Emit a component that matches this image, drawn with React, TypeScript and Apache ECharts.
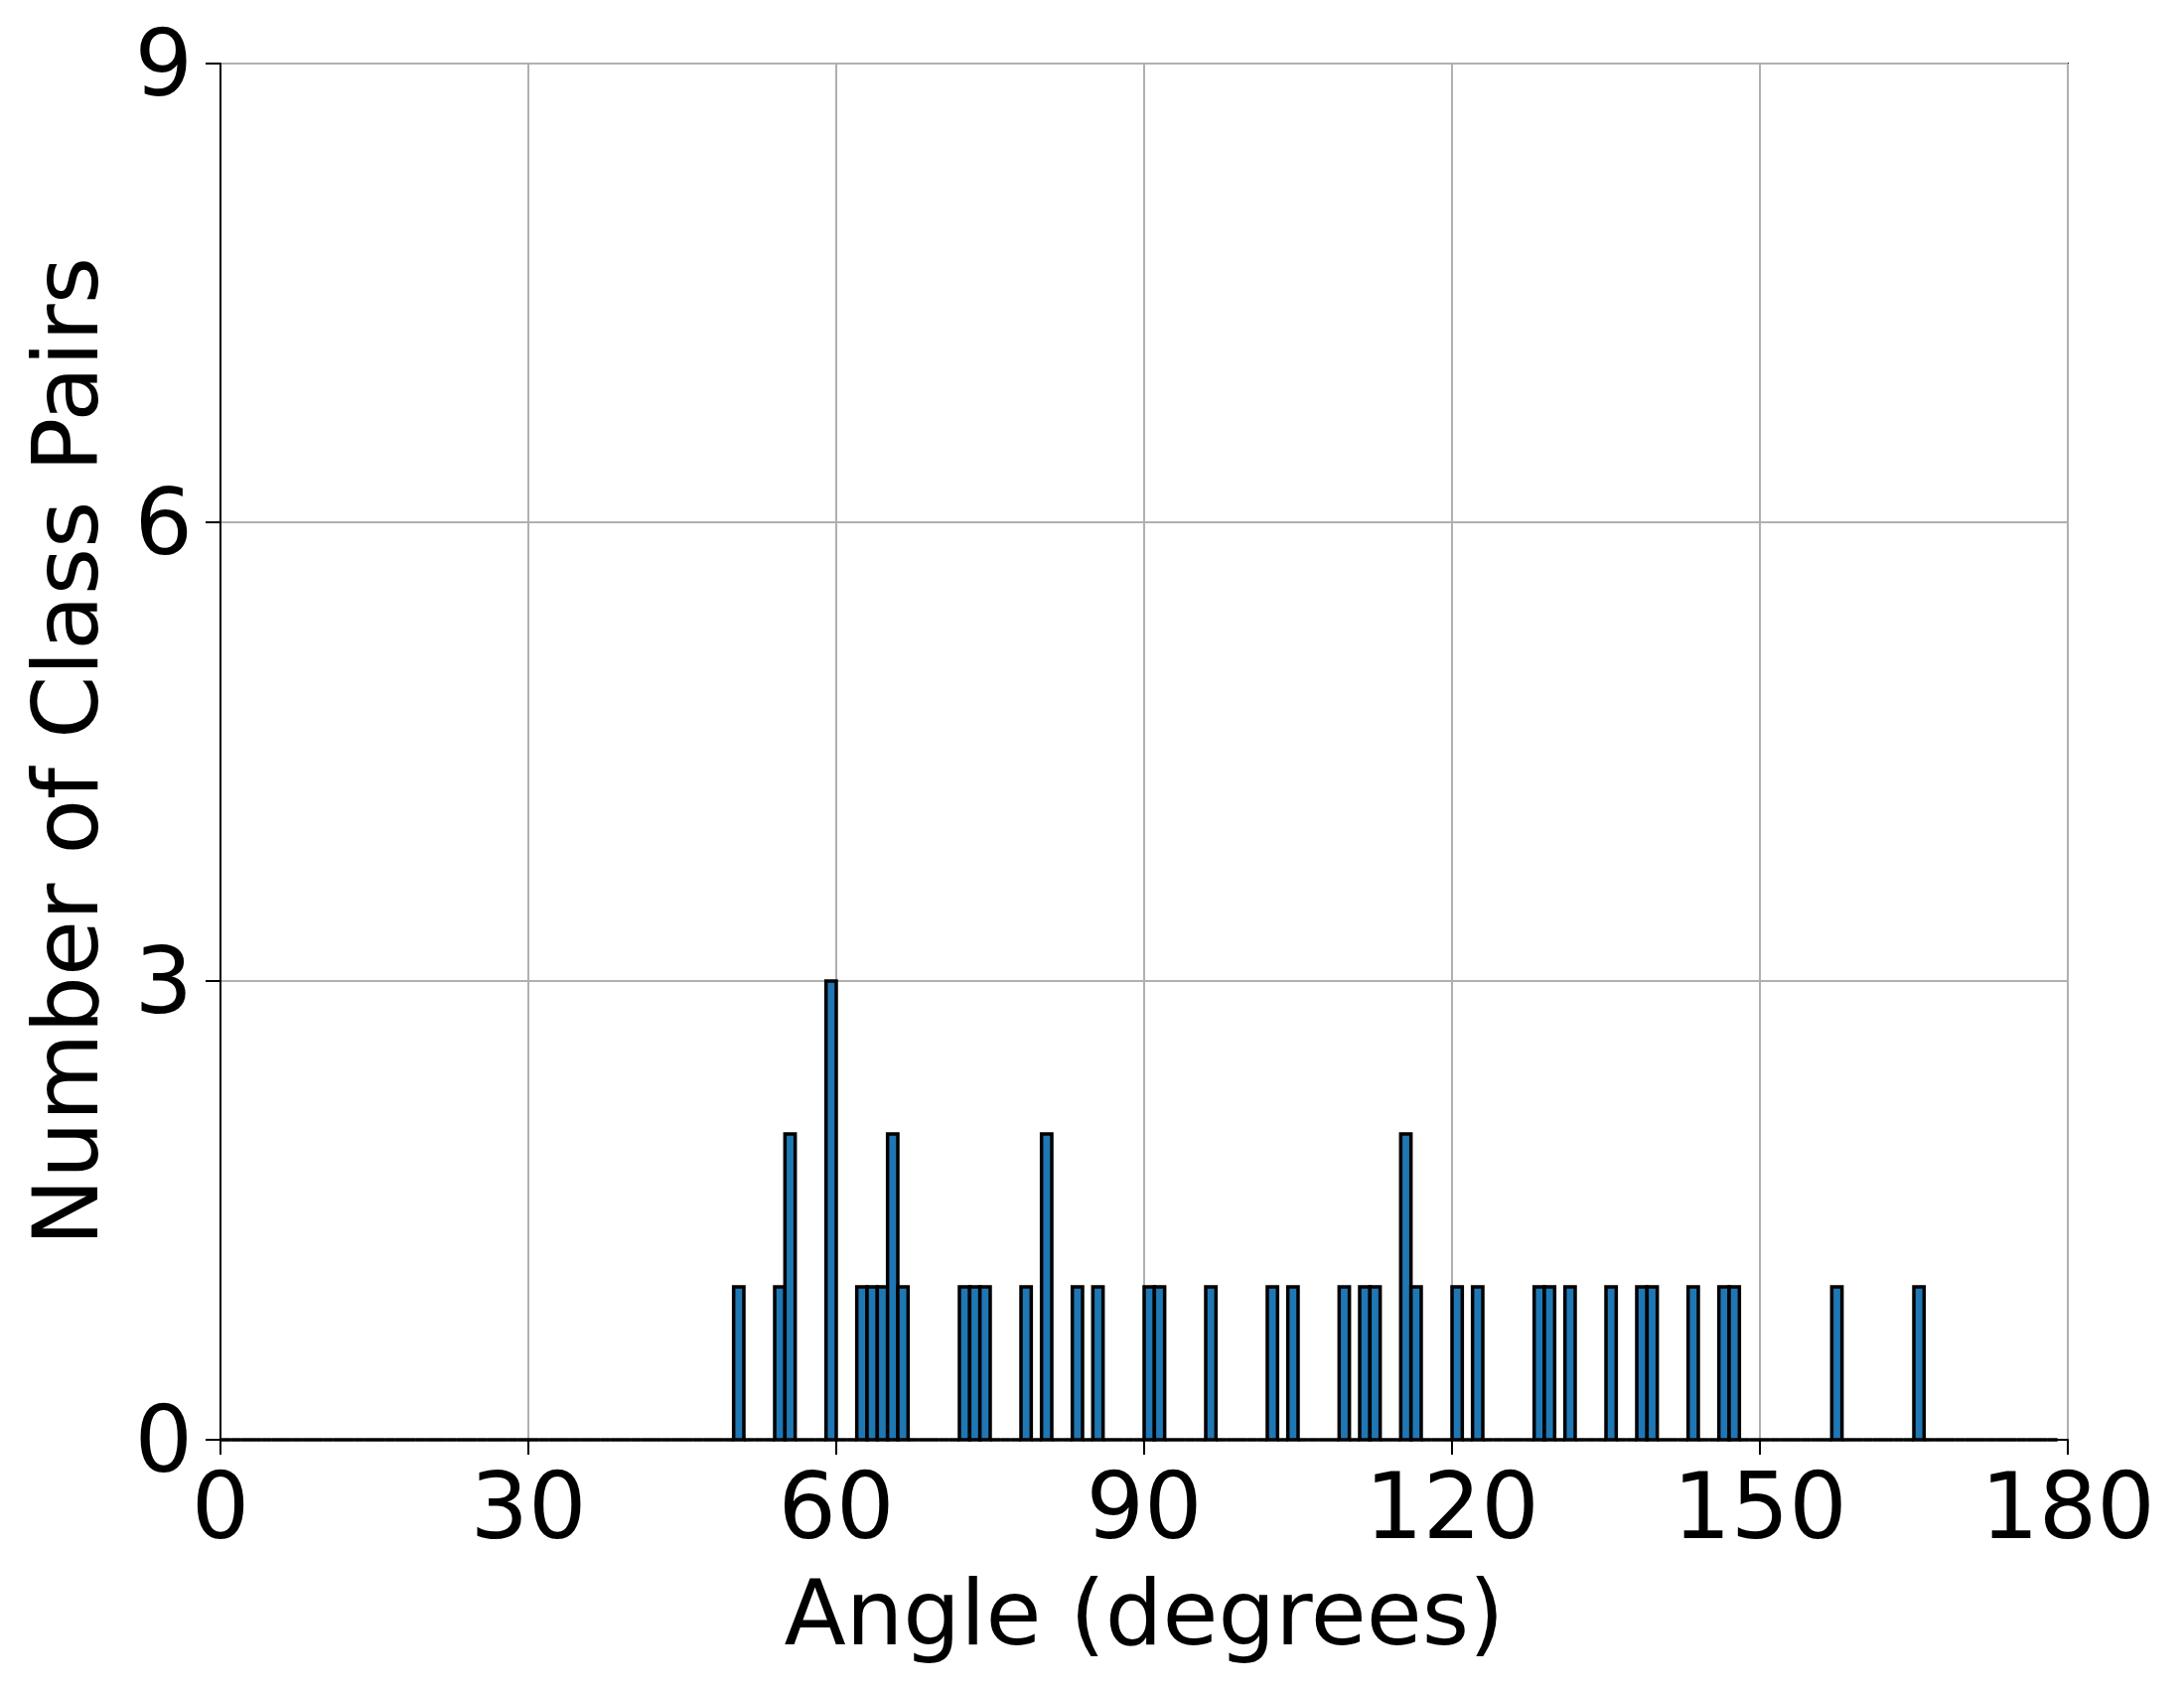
import React, { useEffect, useRef } from "react";
import * as echarts from "echarts";

// Histogram bins: 1-degree bins starting at 0, last bin ends at 179
const binStart = 0;
const binCount = 179;
// Non-empty bins (bin start angle) and their counts
const angles = [50, 54, 55, 59, 62, 63, 64, 65, 66, 72, 73, 74, 78, 80, 83, 85, 90, 91, 96, 102, 104, 109, 111, 112, 115, 116, 120, 122, 128, 129, 131, 135, 138, 139, 143, 146, 147, 157, 165];
const counts = [1, 1, 2, 3, 1, 1, 1, 2, 1, 1, 1, 1, 1, 2, 1, 1, 1, 1, 1, 1, 1, 1, 1, 1, 2, 1, 1, 1, 1, 1, 1, 1, 1, 1, 1, 1, 1, 1, 1];
const xTicks = [0, 30, 60, 90, 120, 150, 180];
const yTicks = [0, 3, 6, 9];

const FONT = "DejaVu Sans";

export default function App() {
  const ref = useRef<HTMLDivElement>(null);
  useEffect(() => {
    if (!ref.current) return;
    const chart = echarts.init(ref.current, null, { renderer: "svg" });
    const bins: number[][] = [];
    for (let i = 0; i < binCount; i++) {
      const a = binStart + i;
      const k = angles.indexOf(a);
      bins.push([a, k >= 0 ? counts[k] : 0]);
    }
    chart.setOption({
      animation: false,
      backgroundColor: "#ffffff",
      grid: {
        left: 222,
        right: 117,
        top: 64,
        bottom: 252,
        show: true,
        borderColor: "#000000",
        borderWidth: 2,
        backgroundColor: "transparent",
      },
      xAxis: {
        type: "value",
        min: xTicks[0],
        max: xTicks[xTicks.length - 1],
        interval: 30,
        name: "Angle (degrees)",
        nameLocation: "middle",
        nameGap: 129,
        nameTextStyle: { fontFamily: FONT, fontSize: 91, color: "#000" },
        axisLine: { show: true, lineStyle: { color: "#000", width: 2 } },
        axisTick: { show: true, length: 15, lineStyle: { color: "#000", width: 2 } },
        axisLabel: { fontFamily: FONT, fontSize: 92, color: "#000", margin: 21 },
        splitLine: { show: true, lineStyle: { color: "#b0b0b0", width: 2 } },
      },
      yAxis: {
        type: "value",
        min: yTicks[0],
        max: yTicks[yTicks.length - 1],
        interval: 3,
        name: "Number of Class Pairs",
        nameLocation: "middle",
        nameGap: 110,
        nameRotate: 90,
        nameTextStyle: { fontFamily: FONT, fontSize: 91, color: "#000" },
        axisLine: { show: true, lineStyle: { color: "#000", width: 2 } },
        axisTick: { show: true, length: 15, lineStyle: { color: "#000", width: 2 } },
        axisLabel: { fontFamily: FONT, fontSize: 92, color: "#000", margin: 28 },
        splitLine: { show: true, lineStyle: { color: "#b0b0b0", width: 2 } },
      },
      series: [
        {
          type: "custom",
          data: bins,
          encode: { x: 0, y: 1 },
          renderItem: (params: any, api: any) => {
            const x0 = api.value(0);
            const h = api.value(1);
            const p0 = api.coord([x0, 0]);
            const p1 = api.coord([x0 + 1, h]);
            if (h === 0) {
              return {
                type: "line",
                shape: { x1: p0[0], y1: p0[1], x2: p1[0], y2: p0[1] },
                style: { stroke: "#000", lineWidth: 3.5 },
              };
            }
            return {
              type: "rect",
              shape: { x: p0[0], y: p1[1], width: p1[0] - p0[0], height: p0[1] - p1[1] },
              style: { fill: "#1f77b4", stroke: "#000", lineWidth: 3.5 },
            };
          },
        },
      ],
    });
    return () => chart.dispose();
  }, []);
  return (
    <div
      ref={ref}
      style={{ position: "absolute", left: 0, top: 0, width: 2199, height: 1702 }}
    />
  );
}
